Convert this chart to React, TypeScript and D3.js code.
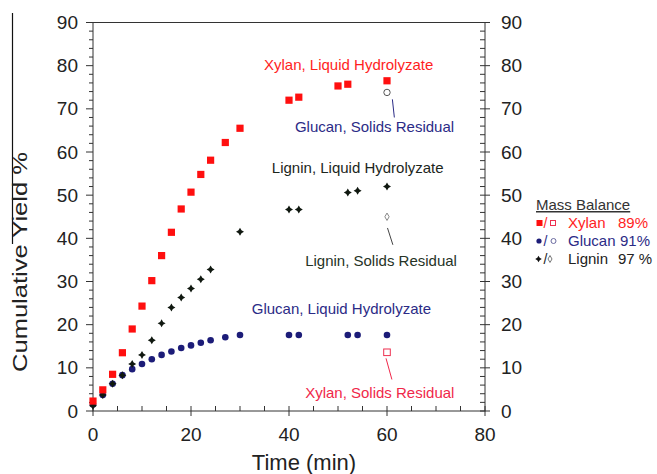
import React, { useEffect, useRef } from 'react';
import * as d3 from 'd3';

// Xylan, liquid hydrolyzate (cumulative yield %)
const xylanTime = [0, 2, 4, 6, 8, 10, 12, 14, 16, 18, 20, 22, 24, 27, 30, 40, 42, 50, 52, 60];
const xylanYield = [2.3, 4.9, 8.5, 13.5, 19.0, 24.3, 30.2, 36.0, 41.4, 46.8, 50.7, 54.8, 58.1, 62.2, 65.5, 72.0, 72.7, 75.3, 75.7, 76.5];

// Glucan, liquid hydrolyzate
const glucanTime = [0, 2, 4, 6, 8, 10, 12, 14, 16, 18, 20, 22, 24, 27, 30, 40, 42, 52, 54, 60];
const glucanYield = [1.5, 3.7, 6.3, 8.3, 9.7, 10.9, 12.0, 13.0, 13.8, 14.6, 15.2, 15.8, 16.4, 17.1, 17.6, 17.6, 17.6, 17.6, 17.6, 17.6];

// Lignin, liquid hydrolyzate
const ligninTime = [0, 2, 4, 6, 8, 10, 12, 14, 16, 18, 20, 22, 24, 30, 40, 42, 52, 54, 60];
const ligninYield = [1.2, 3.7, 6.3, 8.3, 10.9, 13.0, 16.4, 20.3, 24.0, 26.3, 28.4, 30.5, 32.8, 41.5, 46.7, 46.7, 50.6, 51.0, 52.0];

// Solids residual at 60 min
const residualTime = 60;
const xylanResidual = 13.6;
const glucanResidual = 73.8;
const ligninResidual = 45.0;

const xTicks = [0, 20, 40, 60, 80];
const yTicks = [0, 10, 20, 30, 40, 50, 60, 70, 80, 90];

// labels placed in data units: [text, time, yield, colour]
const labels: [string, number, number, string][] = [
  ['Xylan, Liquid Hydrolyzate', 34.9, 80.1, '#ff1e1e'],
  ['Glucan, Solids Residual', 41.2, 65.8, '#2b2b86'],
  ['Lignin, Liquid Hydrolyzate', 36.5, 56.3, '#1c261c'],
  ['Lignin, Solids Residual', 43.3, 34.8, '#263326'],
  ['Glucan, Liquid Hydrolyzate', 32.4, 23.6, '#2b2b86'],
  ['Xylan, Solids Residual', 43.3, 4.2, '#f0284a'],
];

// leader lines: [t1, y1, t2, y2, colour]
const leaders: [number, number, number, number, string][] = [
  [61.1, 72.2, 61.5, 68.0, '#2b2b86'],
  [60.1, 42.4, 61.2, 38.5, '#444'],
  [59.8, 12.2, 61.0, 7.3, '#f0284a'],
];

const legendRows: [string, string, string][] = [
  ['Xylan', '89%', '#ff1e1e'],
  ['Glucan', '91%', '#2b2b86'],
  ['Lignin', '97 %', '#222'],
];

const RED = '#ff0f0f';
const NAVY = '#1c1c78';
const FONT = '"Liberation Sans", Arial, sans-serif';

// small four-point star, as used for the lignin points
const star = (r: number, inner: number) => {
  const pts: [number, number][] = [];
  for (let i = 0; i < 8; i++) {
    const a = (Math.PI / 4) * i - Math.PI / 2;
    const rr = i % 2 === 0 ? r : inner;
    pts.push([Math.cos(a) * rr, Math.sin(a) * rr]);
  }
  return 'M' + pts.map(p => p.join(',')).join('L') + 'Z';
};

const App = () => {
  const svgRef = useRef<SVGSVGElement>(null);

  useEffect(() => {
    const svg = d3.select(svgRef.current);
    svg.selectAll('*').remove();

    const x = d3.scaleLinear().domain([0, 80]).range([93, 485]);
    const y = d3.scaleLinear().domain([0, 90]).range([411, 22.5]);
    const axisColor = '#333';

    svg.append('rect').attr('width', 657).attr('height', 474).attr('fill', '#fff');

    // stray crop line at far left
    svg.append('line')
      .attr('x1', 12.5).attr('x2', 12.5).attr('y1', 13).attr('y2', 244)
      .attr('stroke', '#111').attr('stroke-width', 1.2);

    // frame
    svg.append('rect')
      .attr('x', x(0)).attr('y', y(90))
      .attr('width', x(80) - x(0)).attr('height', y(0) - y(90))
      .attr('fill', 'none').attr('stroke', axisColor).attr('stroke-width', 1);

    const ticks = svg.append('g').attr('stroke', axisColor).attr('stroke-width', 1);

    // y minor/major ticks, left outward and right inward
    d3.range(0, 91, 2).forEach(v => {
      const major = v % 10 === 0;
      ticks.append('line')
        .attr('x1', x(0) - (major ? 7 : 4)).attr('x2', x(0))
        .attr('y1', y(v)).attr('y2', y(v));
      ticks.append('line')
        .attr('x1', x(80) - 5).attr('x2', x(80) + (major ? 5 : 0))
        .attr('y1', y(v)).attr('y2', y(v));
    });

    // x minor/major ticks
    d3.range(0, 81, 5).forEach(v => {
      const major = v % 20 === 0;
      ticks.append('line')
        .attr('x1', x(v)).attr('x2', x(v))
        .attr('y1', y(0) - 5).attr('y2', y(0) + (major ? 5 : 0));
    });

    const tickText = svg.append('g')
      .attr('font-family', FONT).attr('font-size', 19).attr('fill', '#222');

    yTicks.forEach(v => {
      tickText.append('text')
        .attr('x', 78).attr('y', y(v)).attr('dy', '0.35em')
        .attr('text-anchor', 'end').text(v);
      tickText.append('text')
        .attr('x', 501).attr('y', y(v)).attr('dy', '0.35em')
        .attr('text-anchor', 'start').text(v);
    });

    xTicks.forEach(v => {
      tickText.append('text')
        .attr('x', x(v)).attr('y', 441)
        .attr('text-anchor', 'middle').text(v);
    });

    svg.append('text')
      .attr('transform', 'translate(27,262) rotate(-90)')
      .attr('text-anchor', 'middle')
      .attr('font-family', FONT).attr('font-size', 21).attr('fill', '#222')
      .attr('textLength', 220).attr('lengthAdjust', 'spacingAndGlyphs')
      .text('Cumulative Yield %');

    svg.append('text')
      .attr('x', 304).attr('y', 470)
      .attr('text-anchor', 'middle')
      .attr('font-family', FONT).attr('font-size', 22).attr('fill', '#222')
      .text('Time (min)');

    // data
    const xylanData = xylanTime.map((t, i) => [t, xylanYield[i]]);
    const glucanData = glucanTime.map((t, i) => [t, glucanYield[i]]);
    const ligninData = ligninTime.map((t, i) => [t, ligninYield[i]]);

    svg.append('g').selectAll('circle')
      .data(glucanData).enter().append('circle')
      .attr('cx', d => x(d[0])).attr('cy', d => y(d[1]))
      .attr('r', 3.3).attr('fill', NAVY);

    svg.append('g').selectAll('path')
      .data(ligninData).enter().append('path')
      .attr('d', star(4, 2.1))
      .attr('transform', d => `translate(${x(d[0])},${y(d[1])})`)
      .attr('fill', '#101810');

    svg.append('g').selectAll('rect')
      .data(xylanData).enter().append('rect')
      .attr('x', d => x(d[0]) - 3.6).attr('y', d => y(d[1]) - 3.6)
      .attr('width', 7.2).attr('height', 7.2).attr('fill', RED);

    // solids residual (open markers)
    svg.append('rect')
      .attr('x', x(residualTime) - 3.3).attr('y', y(xylanResidual) - 3.3)
      .attr('width', 6.6).attr('height', 6.6)
      .attr('fill', '#fff').attr('stroke', '#ee3050').attr('stroke-width', 1);
    svg.append('circle')
      .attr('cx', x(residualTime)).attr('cy', y(glucanResidual)).attr('r', 3.2)
      .attr('fill', '#fff').attr('stroke', '#555').attr('stroke-width', 1);
    svg.append('path')
      .attr('d', d3.symbol().type(d3.symbolDiamond).size(16)())
      .attr('transform', `translate(${x(residualTime)},${y(ligninResidual)})`)
      .attr('fill', '#fff').attr('stroke', '#888').attr('stroke-width', 1);

    // leaders and labels
    svg.append('g').selectAll('line')
      .data(leaders).enter().append('line')
      .attr('x1', d => x(d[0])).attr('y1', d => y(d[1]))
      .attr('x2', d => x(d[2])).attr('y2', d => y(d[3]))
      .attr('stroke', d => d[4]).attr('stroke-width', 1);

    svg.append('g').selectAll('text')
      .data(labels).enter().append('text')
      .attr('x', d => x(d[1])).attr('y', d => y(d[2])).attr('dy', '0.35em')
      .attr('font-family', FONT).attr('font-size', 15)
      .attr('fill', d => d[3])
      .text(d => d[0]);

    // legend
    const legend = svg.append('g').attr('font-family', FONT).attr('font-size', 15);
    legend.append('text')
      .attr('x', 536).attr('y', 210)
      .attr('fill', '#333').attr('text-decoration', 'underline')
      .text('Mass Balance');

    legendRows.forEach((row, i) => {
      const cy = 223 + i * 18;
      const g = legend.append('g');
      if (i === 0) {
        g.append('rect').attr('x', 536.5).attr('y', cy - 3).attr('width', 6).attr('height', 6).attr('fill', RED);
        g.append('rect').attr('x', 550.5).attr('y', cy - 2.5).attr('width', 5).attr('height', 5)
          .attr('fill', 'none').attr('stroke', '#ee3050').attr('stroke-width', 1);
      } else if (i === 1) {
        g.append('circle').attr('cx', 539).attr('cy', cy).attr('r', 2.6).attr('fill', NAVY);
        g.append('circle').attr('cx', 553.5).attr('cy', cy).attr('r', 2.5)
          .attr('fill', 'none').attr('stroke', '#6a6aa0').attr('stroke-width', 1);
      } else {
        g.append('path').attr('d', star(3.3, 1.7))
          .attr('transform', `translate(538.5,${cy})`).attr('fill', '#111');
        g.append('path').attr('d', d3.symbol().type(d3.symbolDiamond).size(14)())
          .attr('transform', `translate(550,${cy})`)
          .attr('fill', 'none').attr('stroke', '#666').attr('stroke-width', 0.9);
      }
      g.append('text')
        .attr('x', 543.5).attr('y', cy).attr('dy', '0.35em')
        .attr('fill', row[2]).attr('font-size', 14).text('/');
      g.append('text')
        .attr('x', 568).attr('y', cy).attr('dy', '0.35em')
        .attr('fill', row[2]).text(row[0]);
      g.append('text')
        .attr('x', i === 1 ? 620 : 618).attr('y', cy).attr('dy', '0.35em')
        .attr('fill', row[2]).text(row[1]);
    });
  }, []);

  return (
    <div style={{ position: 'fixed', left: 0, top: 0 }}>
      <svg ref={svgRef} width={657} height={474} style={{ display: 'block' }} />
    </div>
  );
};

export default App;
